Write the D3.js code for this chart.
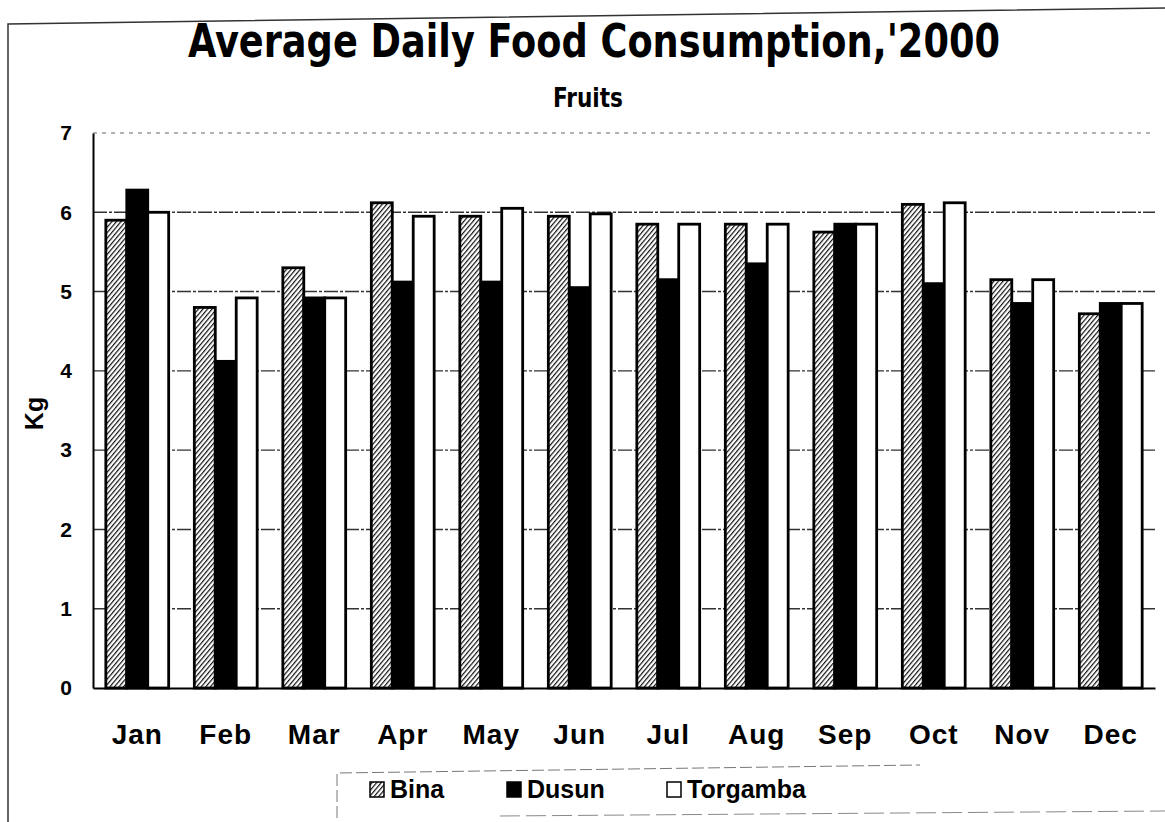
<!DOCTYPE html>
<html><head><meta charset="utf-8">
<script src="https://cdn.jsdelivr.net/npm/d3@7"></script>
<style>body{margin:0;background:#fff}svg{display:block}</style>
</head><body>
<svg id="c" width="1165" height="822"></svg>
<script>
const months = ["Jan","Feb","Mar","Apr","May","Jun","Jul","Aug","Sep","Oct","Nov","Dec"];
const seriesNames = ["Bina","Dusun","Torgamba"];
const bina     = [5.9, 4.8, 5.3, 6.12, 5.95, 5.95, 5.85, 5.85, 5.75, 6.1, 5.15, 4.72];
const dusun    = [6.28, 4.12, 4.92, 5.12, 5.12, 5.05, 5.15, 5.35, 5.85, 5.1, 4.85, 4.85];
const torgamba = [6.0, 4.92, 4.92, 5.95, 6.05, 5.98, 5.85, 5.85, 5.85, 6.12, 5.15, 4.85];
const yTicks = [0,1,2,3,4,5,6,7];

const svg = d3.select("#c");
const defs = svg.append("defs");
const pat = defs.append("pattern").attr("id","hatch").attr("patternUnits","userSpaceOnUse")
  .attr("width",3.5).attr("height",3.5).attr("patternTransform","rotate(40)");
pat.append("rect").attr("width",3.5).attr("height",3.5).attr("fill","#fff");
pat.append("line").attr("x1",0).attr("y1",0).attr("x2",0).attr("y2",3.5).attr("stroke","#111").attr("stroke-width",2.4);

// frame
svg.append("path").attr("d","M8,822 L8,24 L1165,8").attr("fill","none").attr("stroke","#333").attr("stroke-width",1.5);

const L=93, R=1155, T=133, B=688;
const x = d3.scaleBand().domain(months).range([L,R]).paddingInner(0.29).paddingOuter(0.145);
const xs = d3.scaleBand().domain(seriesNames).range([0,x.bandwidth()]);
const y = d3.scaleLinear().domain([0,7]).range([B,T]);

const FONT = "Liberation Sans, Arial, sans-serif";

// gridlines
svg.append("g").selectAll("line").data(yTicks.filter(d=>d>0)).join("line")
  .attr("x1",L).attr("x2",R).attr("y1",d=>y(d)).attr("y2",d=>y(d))
  .attr("stroke",d=>d===7?"#999":"#333").attr("stroke-width",1.4)
  .attr("stroke-dasharray",d=>d===7?"4,5":"14,2,3,2");

// axes
const ya = svg.append("g").attr("transform",`translate(${L},0)`)
  .call(d3.axisLeft(y).tickValues(yTicks).tickSize(0).tickPadding(21).tickFormat(d3.format("d")));
ya.select(".domain").attr("stroke","#000").attr("stroke-width",2);
ya.selectAll("text").attr("font-family",FONT).attr("font-weight","bold").attr("font-size",21).attr("fill","#000");

const xa = svg.append("g").attr("transform",`translate(0,${B})`)
  .call(d3.axisBottom(x).tickSize(0).tickPadding(36));
xa.select(".domain").attr("stroke","#000").attr("stroke-width",2);
xa.selectAll("text").attr("font-family",FONT).attr("font-weight","bold").attr("font-size",28)
  .attr("letter-spacing",1).attr("fill","#000");

// bars
const series = [
  {name:"Bina", vals:bina, fill:"url(#hatch)"},
  {name:"Dusun", vals:dusun, fill:"#000"},
  {name:"Torgamba", vals:torgamba, fill:"#fff"}
];
const bars = svg.append("g");
series.forEach(s=>{
  bars.selectAll(null).data(months).join("rect")
    .attr("x",(m)=>x(m)+xs(s.name))
    .attr("y",(m,i)=>y(s.vals[i]))
    .attr("width",xs.bandwidth())
    .attr("height",(m,i)=>B-y(s.vals[i]))
    .attr("fill",s.fill).attr("stroke","#000").attr("stroke-width",2.8);
});

// y axis title
svg.append("text").attr("transform",`translate(43,${(T+B)/2+3}) rotate(-90)`)
  .attr("text-anchor","middle").attr("font-family",FONT)
  .attr("font-weight","bold").attr("font-size",25).text("Kg");

// titles
svg.append("text").attr("x",594).attr("y",57).attr("text-anchor","middle")
  .attr("font-family","DejaVu Sans Condensed, DejaVu Sans, sans-serif").attr("font-weight","bold").attr("font-size",46)
  .attr("textLength",812).attr("lengthAdjust","spacingAndGlyphs")
  .text("Average Daily Food Consumption,'2000");
svg.append("text").attr("x",588).attr("y",107).attr("text-anchor","middle")
  .attr("font-family","DejaVu Sans Condensed, DejaVu Sans, sans-serif").attr("font-weight","bold").attr("font-size",27)
  .attr("textLength",70).attr("lengthAdjust","spacingAndGlyphs")
  .text("Fruits");

// legend
const lg = svg.append("g");
lg.append("path").attr("d","M337,818 L337,773 L920,765").attr("fill","none").attr("stroke","#777").attr("stroke-width",1).attr("stroke-dasharray","12,4");
lg.append("path").attr("d","M500,816 L1165,811").attr("fill","none").attr("stroke","#888").attr("stroke-width",1).attr("stroke-dasharray","20,6");
const legX = [370, 507, 667];
series.forEach((s,i)=>{
  lg.append("rect").attr("x",legX[i]).attr("y",782).attr("width",14).attr("height",15)
    .attr("fill",s.fill).attr("stroke","#000").attr("stroke-width",1.5);
  lg.append("text").attr("x",legX[i]+20).attr("y",798)
    .attr("font-family",FONT).attr("font-weight","bold").attr("font-size",25)
    .text(s.name);
});
</script>
</body></html>
